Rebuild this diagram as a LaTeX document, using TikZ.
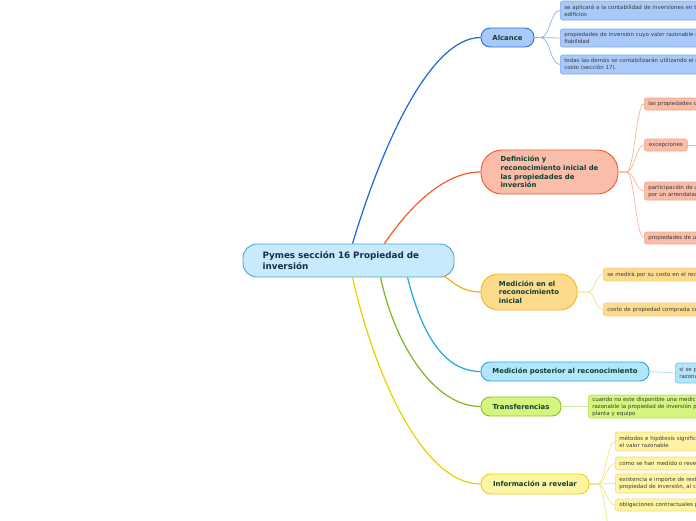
\documentclass[tikz,border=0pt]{standalone}
\usepackage{fontspec}
\setmainfont{DejaVu Sans}
\usetikzlibrary{calc}
\definecolor{rootfill}{HTML}{C8EBFB}
\definecolor{rootdraw}{HTML}{4FA3DA}
\definecolor{roottext}{HTML}{1B2A4E}
\definecolor{brtext}{HTML}{0E3F30}
\definecolor{leaftext}{HTML}{3A3A3A}
\definecolor{alcfill}{HTML}{A9C9F8}
\definecolor{alcdraw}{HTML}{2F72DA}
\definecolor{alcline}{HTML}{1A66D8}
\definecolor{alcleafdraw}{HTML}{7FAAEC}
\definecolor{alcleafline}{HTML}{8BB3EE}
\definecolor{deffill}{HTML}{F9BDA9}
\definecolor{defdraw}{HTML}{F0592A}
\definecolor{defline}{HTML}{F05A28}
\definecolor{defleafdraw}{HTML}{F4A487}
\definecolor{defleafline}{HTML}{F7B49C}
\definecolor{medifill}{HTML}{FDDB8D}
\definecolor{medidraw}{HTML}{F5B419}
\definecolor{mediline}{HTML}{F6AE12}
\definecolor{medileafdraw}{HTML}{F7CF7C}
\definecolor{medileafline}{HTML}{F9D98F}
\definecolor{medpfill}{HTML}{B3E5FB}
\definecolor{medpdraw}{HTML}{24A8E4}
\definecolor{medpline}{HTML}{1CA6E6}
\definecolor{medpleafdraw}{HTML}{6CC6EE}
\definecolor{medpleafline}{HTML}{A8DDF5}
\definecolor{transfill}{HTML}{D5F67D}
\definecolor{transdraw}{HTML}{8ABE22}
\definecolor{transline}{HTML}{7DB51A}
\definecolor{transleafdraw}{HTML}{B4DC5A}
\definecolor{transleafline}{HTML}{CDEB99}
\definecolor{infofill}{HTML}{FEF4A3}
\definecolor{infodraw}{HTML}{EDD10A}
\definecolor{infoline}{HTML}{EBD000}
\definecolor{infoleafdraw}{HTML}{F0DD70}
\definecolor{infoleafline}{HTML}{F2E27F}
\tikzset{
  branch/.style n args={2}{draw=#2, fill=#1, line width=0.9pt,
    font=\bfseries\fontsize{6.9}{8.6}\selectfont, text=brtext, align=left, inner sep=0pt},
  leafbox/.style n args={2}{draw=#2, fill=#1, line width=0.6pt, rounded corners=2.5pt,
    font=\fontsize{5.5}{7}\selectfont, text=leaftext, anchor=west, inner xsep=4pt, inner ysep=0pt},
  wide/.style={text width=250pt, align=left},
  conn/.style={line width=1.2pt, draw=#1},
  leafconn/.style={line width=0.7pt, draw=#1},
}
\begin{document}
\begin{tikzpicture}[x=1pt,y=-1pt]
\useasboundingbox (0,0) rectangle (696,520);
\clip (0,0) rectangle (696,520);

% root
\node[branch={rootfill}{rootdraw}, minimum width=211pt, minimum height=33pt, rounded corners=14pt,
  text width=172pt, font=\bfseries\fontsize{8.8}{11}\selectfont, text=roottext] (root) at (348.5,260.5)
  {Pymes sección 16 Propiedad de\\inversión};

% branches
\node[branch={alcfill}{alcdraw}, minimum width=53pt, minimum height=19pt, rounded corners=9pt] (alc) at (507.5,37.5) {Alcance};
\node[branch={deffill}{defdraw}, minimum width=137pt, minimum height=44pt, rounded corners=21pt] (defi) at (549.5,172)
  {Definición y\\reconocimiento inicial de\\las propiedades de\\inversión};
\node[branch={medifill}{medidraw}, minimum width=96pt, minimum height=36pt, rounded corners=17pt] (medi) at (529,292)
  {Medición en el\\reconocimiento\\inicial};
\node[branch={medpfill}{medpdraw}, minimum width=168pt, minimum height=19pt, rounded corners=9pt] (medp) at (565,371.5)
  {Medición posterior al reconocimiento};
\node[branch={transfill}{transdraw}, minimum width=80pt, minimum height=19pt, rounded corners=9pt] (trans) at (521,406.5)
  {Transferencias};
\node[branch={infofill}{infodraw}, minimum width=108pt, minimum height=20pt, rounded corners=9.5pt] (info) at (535,484)
  {Información a revelar};

% leaves
\node[leafbox={alcfill}{alcleafdraw}, wide, minimum height=19pt] (a1) at (560,10.5)
  {se aplicará a la contabilidad de inversiones en terrenos o\\edificios};
\node[leafbox={alcfill}{alcleafdraw}, wide, minimum height=18pt] (a2) at (560,38)
  {propiedades de inversión cuyo valor razonable se\\fiabilidad};
\node[leafbox={alcfill}{alcleafdraw}, wide, minimum height=19pt] (a3) at (560,64.5)
  {todas las demás se contabilizarán utilizando el modelo de\\costo (sección 17).};

\node[leafbox={deffill}{defleafdraw}, wide, minimum height=12pt] (d1) at (644,104) {las propiedades de};
\node[leafbox={deffill}{defleafdraw}, minimum width=43pt, minimum height=12pt] (d2) at (644,145) {excepciones};
\node[leafbox={deffill}{defleafdraw}, wide, minimum height=18pt] (d3) at (644,191) {participación de una\\por un arrendatario};
\node[leafbox={deffill}{defleafdraw}, wide, minimum height=12pt] (d4) at (644,238) {propiedades de uso};

\node[leafbox={medifill}{medileafdraw}, wide, minimum height=13pt] (m1) at (603,274.5) {se medirá por su costo en el reconocimiento};
\node[leafbox={medifill}{medileafdraw}, wide, minimum height=13pt] (m2) at (603,309.5) {costo de propiedad comprada comprende};

\node[leafbox={medpfill}{medpleafdraw}, wide, minimum height=20pt] (p1) at (675,373) {si se puede\\razonable};

\node[leafbox={transfill}{transleafdraw}, wide, minimum height=23pt] (t1) at (588,406.5)
  {cuando no este disponible una medición\\razonable la propiedad de inversión pasa\\planta y equipo};

\node[leafbox={infofill}{infoleafdraw}, wide, minimum height=19pt] (i1) at (615,441.5) {métodos e hipótesis significativos\\el valor razonable};
\node[leafbox={infofill}{infoleafdraw}, wide, minimum height=13pt] (i2) at (615,463.5) {como se han medido o revelado};
\node[leafbox={infofill}{infoleafdraw}, wide, minimum height=19pt] (i3) at (615,483.5) {existencia e importe de restricciones\\propiedad de inversión, al cobro};
\node[leafbox={infofill}{infoleafdraw}, wide, minimum height=12pt] (i4) at (615,505) {obligaciones contractuales para};

\coordinate (exr) at (700,145);
\coordinate (i5) at (615,545);

% root connectors
\draw[conn=alcline] ($(root.north west)+(110,0)$) .. controls +(30,-100) and +(-50,0) .. (alc.west);
\draw[conn=defline] ($(root.north west)+(142,0)$) .. controls +(20,-30) and +(-40,0) .. (defi.west);
\draw[conn=mediline] ($(root.south east)+(-10,-1.5)$) .. controls +(12,10) and +(-15,0) .. (medi.west);
\draw[conn=medpline] ($(root.south west)+(165,0)$) .. controls +(15,60) and +(-35,0) .. (medp.west);
\draw[conn=transline] ($(root.south west)+(138,0)$) .. controls +(15,70) and +(-45,0) .. (trans.west);
\draw[conn=infoline] ($(root.south west)+(110,0)$) .. controls +(20,90) and +(-60,0) .. (info.west);

% leaf connectors
\foreach \l in {a1,a2,a3}
  \draw[leafconn=alcleafline] (alc.east) -- ++(6,0) .. controls +(10,0) and +(-10,0) .. (\l.west);
\foreach \l in {d1,d2,d3,d4}
  \draw[leafconn=defleafline] (defi.east) -- ++(8,0) .. controls +(8,0) and +(-8,0) .. (\l.west);
\draw[leafconn=defleafline] (d2.east) -- (exr);
\foreach \l in {m1,m2}
  \draw[leafconn=medileafline] (medi.east) -- ++(10,0) .. controls +(8,0) and +(-8,0) .. (\l.west);
\draw[leafconn=medpleafline] (medp.east) -- (p1.west);
\draw[leafconn=transleafline] (trans.east) -- (t1.west);
\foreach \l in {i1,i2,i3,i4}
  \draw[leafconn=infoleafline] (info.east) -- ++(8,0) .. controls +(8,0) and +(-8,0) .. (\l.west);
\draw[leafconn=infoleafline] (info.east) -- ++(8,0) .. controls +(8,0) and +(-8,0) .. (i5);
\end{tikzpicture}
\end{document}
